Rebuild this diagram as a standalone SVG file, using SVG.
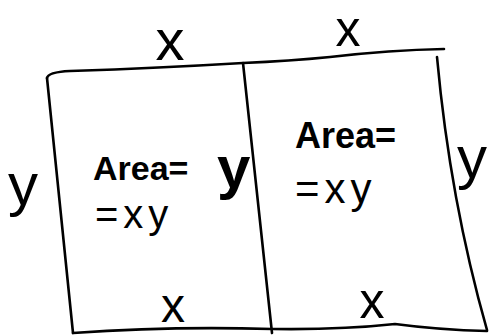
<svg xmlns="http://www.w3.org/2000/svg" width="493" height="335" viewBox="0 0 493 335">
<style>
.ln{fill:none;stroke:#000;stroke-width:2.6;stroke-linecap:round;stroke-linejoin:round}
.t{font-family:"Liberation Sans","DejaVu Sans",sans-serif;fill:#000}
</style>
<rect width="493" height="335" fill="#fff"/>
<g id="connectors">
<path class="ln" d="M47 78 Q48 72 70 71 Q160 68 243 63 Q290 61 330 57 Q390 50 444 49"/>
<path class="ln" d="M47 78 Q60 200 73 333"/>
<path class="ln" d="M243 63 Q258 200 272 333"/>
<path class="ln" d="M437 57 Q450 200 487 330"/>
<path class="ln" d="M73 333 Q170 326 272 329 Q340 330 395 324 Q440 330 487 331"/>
</g>
<g id="left-region">
<text class="t" x="93" y="180" font-size="34" font-weight="bold">Area=</text>
<text class="t" x="95" y="228" font-size="40" letter-spacing="5">=xy</text>
</g>
<g id="right-region">
<text class="t" x="295" y="148" font-size="36" font-weight="bold">Area=</text>
<text class="t" x="295" y="203" font-size="42" letter-spacing="5">=xy</text>
</g>
<g id="labels">
<text class="t" x="8" y="205" font-size="60">y</text>
<text class="t" x="217" y="188" font-size="60" font-weight="bold">y</text>
<text class="t" x="457" y="178" font-size="60">y</text>
<text class="t" x="170" y="60" font-size="58" text-anchor="middle">x</text>
<text class="t" x="348" y="46" font-size="50" text-anchor="middle">x</text>
<text class="t" x="173" y="322" font-size="48" text-anchor="middle">x</text>
<text class="t" x="372" y="318" font-size="50" text-anchor="middle">x</text>
</g>
</svg>
